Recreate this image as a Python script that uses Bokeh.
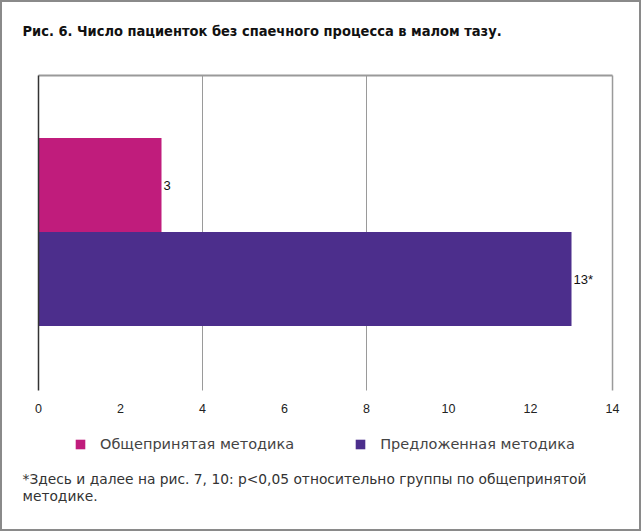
from bokeh.plotting import figure
from bokeh.models import (Range1d, Label, Legend, LegendItem, ColumnDataSource)
from bokeh.core.properties import value
from bokeh.embed import file_html
from bokeh.resources import INLINE

# ---- data ----
series_names = ["Общепринятая методика", "Предложенная методика"]
series_values = [3, 13]
value_labels = ["3", "13*"]
series_colors = ["#C01C7C", "#4C2E8C"]
bar_pos = [1, 0]
x_ticks = [0, 2, 4, 6, 8, 10, 12, 14]
grid_ticks = [4, 8]
title_text = "Рис. 6. Число пациенток без спаечного процесса в малом тазу."
footnote_1 = "*Здесь и далее на рис. 7, 10: p<0,05 относительно группы по общепринятой"
footnote_2 = "методике."

# plot-area extents in data units
X_MIN, X_MAX = 0, 14
Y_BOTTOM, Y_TOP = -1.186, 2.165

W, H = 641, 531
p = figure(width=W, height=H, output_backend="svg", toolbar_location=None,
           x_range=Range1d(-0.9268, 14.707), y_range=Range1d(-2.686, 2.963),
           x_axis_location=None, y_axis_location=None, min_border=0)
p.grid.visible = False
p.background_fill_color = "white"
p.border_fill_color = "white"
p.outline_line_color = "#8a8a8a"
p.outline_line_width = 3

# grid lines and frame
p.segment(x0=grid_ticks, x1=grid_ticks, y0=Y_BOTTOM, y1=Y_TOP,
          line_color="#9a9a9a", line_width=1)
p.segment(x0=[X_MAX], x1=[X_MAX], y0=Y_BOTTOM, y1=Y_TOP,
          line_color="#9a9a9a", line_width=1.5)
p.segment(x0=[X_MIN], x1=[X_MAX], y0=Y_TOP, y1=Y_TOP,
          line_color="#9a9a9a", line_width=2)

src = ColumnDataSource(dict(y=bar_pos, right=series_values, color=series_colors,
                            name=series_names, lab=value_labels))
r = p.hbar(y="y", right="right", left=0, height=1.0, fill_color="color",
           line_color=None, source=src)

p.segment(x0=[X_MIN], x1=[X_MIN], y0=Y_BOTTOM, y1=Y_TOP,
          line_color="#333333", line_width=1.5)

p.text(x="right", y="y", text="lab", source=src, x_offset=2,
       text_align="left", text_baseline="middle", text_font_size="13px",
       text_color="#111111", text_font=value("Liberation Sans"))

# tick labels
p.text(x=x_ticks, y=[Y_BOTTOM] * len(x_ticks), text=[str(t) for t in x_ticks],
       y_offset=18, text_align="center", text_baseline="middle",
       text_font_size="12.5px", text_color="#222222", text_font=value("Liberation Sans"))

# legend
items = [LegendItem(label=nm, renderers=[r], index=i) for i, nm in enumerate(series_names)]
leg = Legend(items=items, orientation="horizontal", location=(74, 79),
             glyph_width=12, glyph_height=12, label_standoff=14, spacing=60,
             padding=0, margin=0, border_line_color=None, background_fill_alpha=0,
             label_text_font="DejaVu Sans", label_text_font_size="14.5px",
             label_text_color="#444444", label_height=16)
p.add_layout(leg, "center")

p.add_layout(Label(x=22, y=H - 30, x_units="screen", y_units="screen", text=title_text,
                   text_font="DejaVu Sans Condensed", text_font_style="bold",
                   text_font_size="14.5px", text_baseline="middle", text_color="#111111"))
p.add_layout(Label(x=22, y=H - 478, x_units="screen", y_units="screen", text=footnote_1,
                   text_font="DejaVu Sans", text_font_size="13.8px",
                   text_baseline="middle", text_color="#333333"))
p.add_layout(Label(x=22, y=H - 495, x_units="screen", y_units="screen", text=footnote_2,
                   text_font="DejaVu Sans", text_font_size="13.8px",
                   text_baseline="middle", text_color="#333333"))

open("out.html", "w").write(file_html(p, INLINE))
